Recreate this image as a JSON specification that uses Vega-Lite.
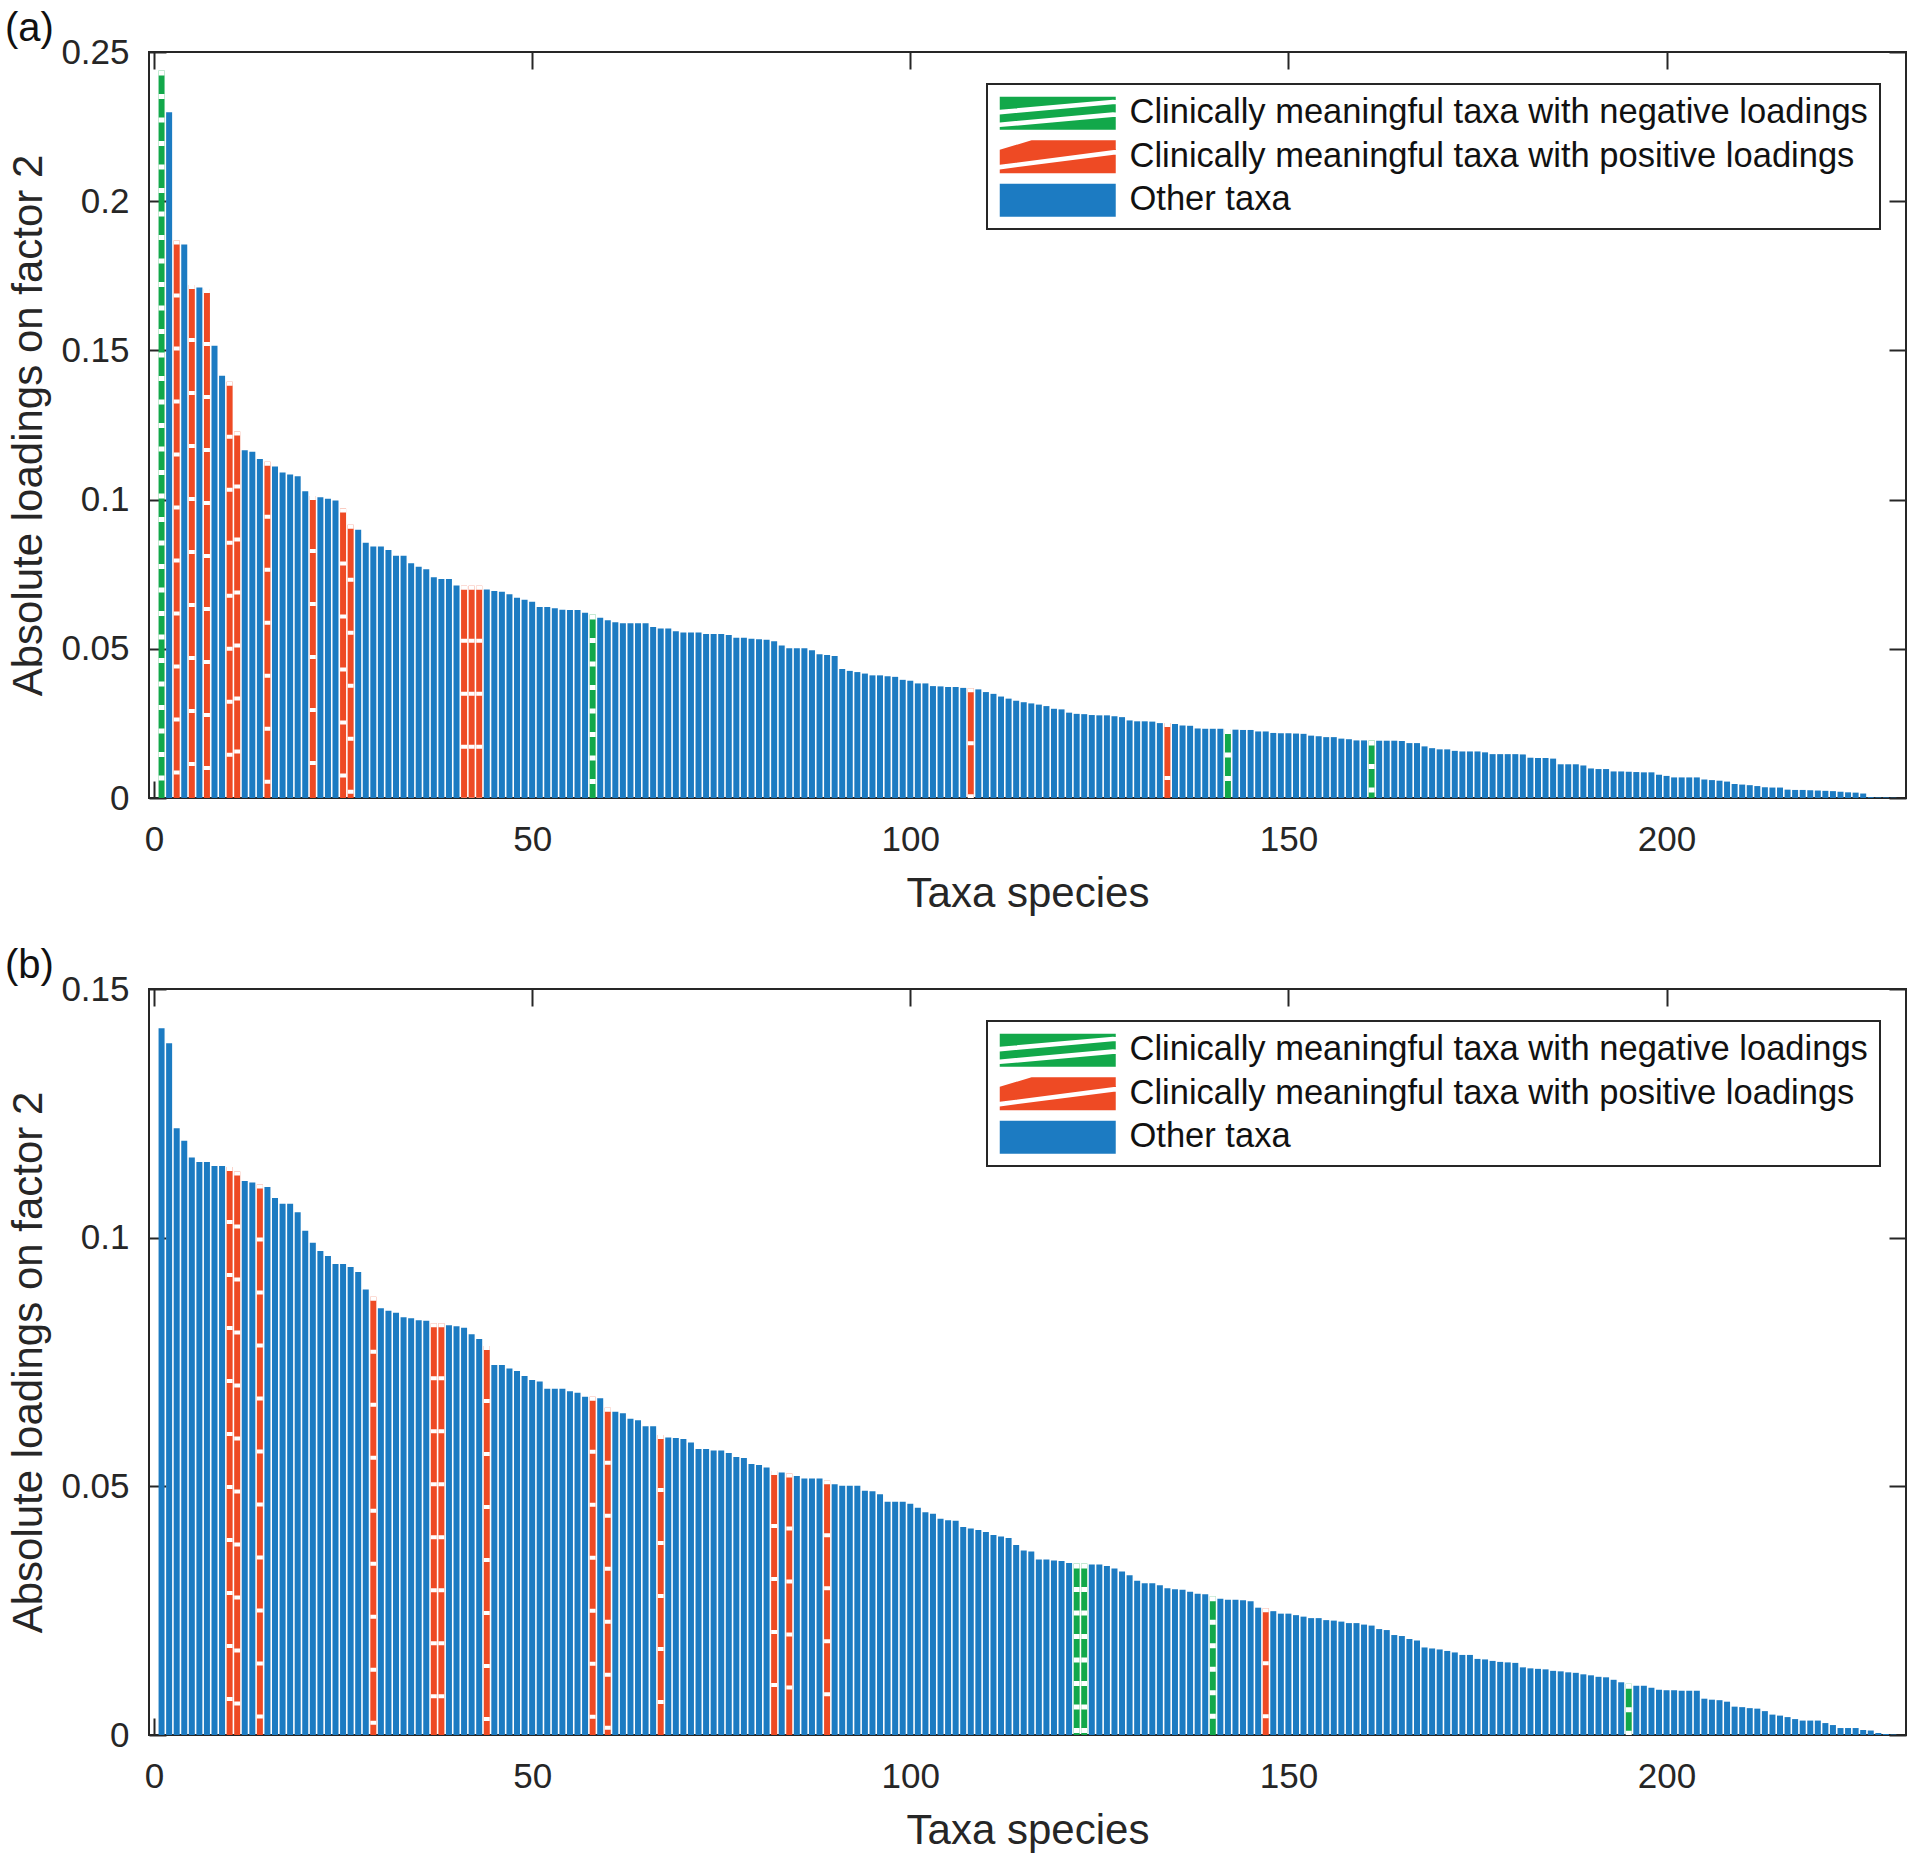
{
  "$schema": "https://vega.github.io/schema/vega-lite/v6.json",
  "background": "white",
  "padding": {"left": 3, "top": 8, "right": 12, "bottom": 5},
  "spacing": 30,
  "config": {
    "font": "Liberation Sans",
    "view": {"stroke": "#262626", "strokeWidth": 2},
    "axis": {"domain": false, "grid": false, "tickColor": "#262626", "tickWidth": 2, "tickSize": -17, "labelFontSize": 35, "labelColor": "#262626", "titleFontSize": 42, "titleFontWeight": "normal", "titleColor": "#262626", "labelFlush": false, "labelOverlap": false, "labelBound": false},
    "title": {"fontSize": 40, "fontWeight": "normal", "anchor": "start", "frame": "bounds", "color": "#111111", "offset": -14, "dx": -3},
    "legend": {"orient": "none", "legendX": 838, "legendY": 32, "title": null, "labelFontSize": 34.5, "labelColor": "#111111", "labelLimit": 0, "symbolSize": 1089, "symbolStrokeWidth": 0, "strokeColor": "#262626", "strokeWidth": 2, "fillColor": "white", "padding": 12, "labelOffset": 96, "rowPadding": 8.5}
  },
  "datasets": {
    "a": [
      {"i":1,"v":0.2438,"g":"n"},{"i":2,"v":0.2298,"g":"o"},{"i":3,"v":0.1868,"g":"p"},{"i":4,"v":0.1855,"g":"o"},{"i":5,"v":0.1719,"g":"p"},
      {"i":6,"v":0.1711,"g":"o"},{"i":7,"v":0.1706,"g":"p"},{"i":8,"v":0.1516,"g":"o"},{"i":9,"v":0.1415,"g":"o"},{"i":10,"v":0.1395,"g":"p"},
      {"i":11,"v":0.1228,"g":"p"},{"i":12,"v":0.1165,"g":"o"},{"i":13,"v":0.1160,"g":"o"},{"i":14,"v":0.1136,"g":"o"},{"i":15,"v":0.1127,"g":"p"},
      {"i":16,"v":0.1111,"g":"o"},{"i":17,"v":0.1091,"g":"o"},{"i":18,"v":0.1084,"g":"o"},{"i":19,"v":0.1078,"g":"o"},{"i":20,"v":0.1028,"g":"o"},
      {"i":21,"v":0.1012,"g":"p"},{"i":22,"v":0.1008,"g":"o"},{"i":23,"v":0.1003,"g":"o"},{"i":24,"v":0.0997,"g":"o"},{"i":25,"v":0.0970,"g":"p"},
      {"i":26,"v":0.0916,"g":"p"},{"i":27,"v":0.0899,"g":"o"},{"i":28,"v":0.0855,"g":"o"},{"i":29,"v":0.0843,"g":"o"},{"i":30,"v":0.0843,"g":"o"},
      {"i":31,"v":0.0831,"g":"o"},{"i":32,"v":0.0812,"g":"o"},{"i":33,"v":0.0812,"g":"o"},{"i":34,"v":0.0787,"g":"o"},{"i":35,"v":0.0775,"g":"o"},
      {"i":36,"v":0.0767,"g":"o"},{"i":37,"v":0.0740,"g":"o"},{"i":38,"v":0.0734,"g":"o"},{"i":39,"v":0.0734,"g":"o"},{"i":40,"v":0.0712,"g":"o"},
      {"i":41,"v":0.0711,"g":"p"},{"i":42,"v":0.0711,"g":"p"},{"i":43,"v":0.0711,"g":"p"},{"i":44,"v":0.0699,"g":"o"},{"i":45,"v":0.0694,"g":"o"},
      {"i":46,"v":0.0691,"g":"o"},{"i":47,"v":0.0683,"g":"o"},{"i":48,"v":0.0671,"g":"o"},{"i":49,"v":0.0664,"g":"o"},{"i":50,"v":0.0658,"g":"o"},
      {"i":51,"v":0.0640,"g":"o"},{"i":52,"v":0.0640,"g":"o"},{"i":53,"v":0.0636,"g":"o"},{"i":54,"v":0.0631,"g":"o"},{"i":55,"v":0.0630,"g":"o"},
      {"i":56,"v":0.0630,"g":"o"},{"i":57,"v":0.0621,"g":"o"},{"i":58,"v":0.0615,"g":"n"},{"i":59,"v":0.0604,"g":"o"},{"i":60,"v":0.0596,"g":"o"},
      {"i":61,"v":0.0589,"g":"o"},{"i":62,"v":0.0586,"g":"o"},{"i":63,"v":0.0586,"g":"o"},{"i":64,"v":0.0586,"g":"o"},{"i":65,"v":0.0586,"g":"o"},
      {"i":66,"v":0.0573,"g":"o"},{"i":67,"v":0.0568,"g":"o"},{"i":68,"v":0.0568,"g":"o"},{"i":69,"v":0.0559,"g":"o"},{"i":70,"v":0.0555,"g":"o"},
      {"i":71,"v":0.0555,"g":"o"},{"i":72,"v":0.0555,"g":"o"},{"i":73,"v":0.0550,"g":"o"},{"i":74,"v":0.0550,"g":"o"},{"i":75,"v":0.0550,"g":"o"},
      {"i":76,"v":0.0546,"g":"o"},{"i":77,"v":0.0537,"g":"o"},{"i":78,"v":0.0537,"g":"o"},{"i":79,"v":0.0534,"g":"o"},{"i":80,"v":0.0532,"g":"o"},
      {"i":81,"v":0.0530,"g":"o"},{"i":82,"v":0.0525,"g":"o"},{"i":83,"v":0.0511,"g":"o"},{"i":84,"v":0.0502,"g":"o"},{"i":85,"v":0.0502,"g":"o"},
      {"i":86,"v":0.0502,"g":"o"},{"i":87,"v":0.0495,"g":"o"},{"i":88,"v":0.0482,"g":"o"},{"i":89,"v":0.0479,"g":"o"},{"i":90,"v":0.0476,"g":"o"},
      {"i":91,"v":0.0432,"g":"o"},{"i":92,"v":0.0426,"g":"o"},{"i":93,"v":0.0422,"g":"o"},{"i":94,"v":0.0417,"g":"o"},{"i":95,"v":0.0411,"g":"o"},
      {"i":96,"v":0.0411,"g":"o"},{"i":97,"v":0.0408,"g":"o"},{"i":98,"v":0.0406,"g":"o"},{"i":99,"v":0.0396,"g":"o"},{"i":100,"v":0.0393,"g":"o"},
      {"i":101,"v":0.0384,"g":"o"},{"i":102,"v":0.0384,"g":"o"},{"i":103,"v":0.0375,"g":"o"},{"i":104,"v":0.0374,"g":"o"},{"i":105,"v":0.0372,"g":"o"},
      {"i":106,"v":0.0372,"g":"o"},{"i":107,"v":0.0369,"g":"o"},{"i":108,"v":0.0368,"g":"p"},{"i":109,"v":0.0364,"g":"o"},{"i":110,"v":0.0355,"g":"o"},
      {"i":111,"v":0.0349,"g":"o"},{"i":112,"v":0.0340,"g":"o"},{"i":113,"v":0.0333,"g":"o"},{"i":114,"v":0.0326,"g":"o"},{"i":115,"v":0.0321,"g":"o"},
      {"i":116,"v":0.0317,"g":"o"},{"i":117,"v":0.0313,"g":"o"},{"i":118,"v":0.0308,"g":"o"},{"i":119,"v":0.0299,"g":"o"},{"i":120,"v":0.0297,"g":"o"},
      {"i":121,"v":0.0286,"g":"o"},{"i":122,"v":0.0282,"g":"o"},{"i":123,"v":0.0281,"g":"o"},{"i":124,"v":0.0278,"g":"o"},{"i":125,"v":0.0277,"g":"o"},
      {"i":126,"v":0.0277,"g":"o"},{"i":127,"v":0.0274,"g":"o"},{"i":128,"v":0.0271,"g":"o"},{"i":129,"v":0.0260,"g":"o"},{"i":130,"v":0.0257,"g":"o"},
      {"i":131,"v":0.0257,"g":"o"},{"i":132,"v":0.0256,"g":"o"},{"i":133,"v":0.0251,"g":"o"},{"i":134,"v":0.0251,"g":"p"},{"i":135,"v":0.0248,"g":"o"},
      {"i":136,"v":0.0243,"g":"o"},{"i":137,"v":0.0242,"g":"o"},{"i":138,"v":0.0233,"g":"o"},{"i":139,"v":0.0232,"g":"o"},{"i":140,"v":0.0232,"g":"o"},
      {"i":141,"v":0.0232,"g":"o"},{"i":142,"v":0.0231,"g":"n"},{"i":143,"v":0.0229,"g":"o"},{"i":144,"v":0.0228,"g":"o"},{"i":145,"v":0.0228,"g":"o"},
      {"i":146,"v":0.0223,"g":"o"},{"i":147,"v":0.0223,"g":"o"},{"i":148,"v":0.0218,"g":"o"},{"i":149,"v":0.0217,"g":"o"},{"i":150,"v":0.0217,"g":"o"},
      {"i":151,"v":0.0216,"g":"o"},{"i":152,"v":0.0215,"g":"o"},{"i":153,"v":0.0209,"g":"o"},{"i":154,"v":0.0207,"g":"o"},{"i":155,"v":0.0204,"g":"o"},
      {"i":156,"v":0.0204,"g":"o"},{"i":157,"v":0.0199,"g":"o"},{"i":158,"v":0.0197,"g":"o"},{"i":159,"v":0.0193,"g":"o"},{"i":160,"v":0.0193,"g":"o"},
      {"i":161,"v":0.0193,"g":"n"},{"i":162,"v":0.0192,"g":"o"},{"i":163,"v":0.0192,"g":"o"},{"i":164,"v":0.0192,"g":"o"},{"i":165,"v":0.0191,"g":"o"},
      {"i":166,"v":0.0184,"g":"o"},{"i":167,"v":0.0184,"g":"o"},{"i":168,"v":0.0173,"g":"o"},{"i":169,"v":0.0167,"g":"o"},{"i":170,"v":0.0163,"g":"o"},
      {"i":171,"v":0.0163,"g":"o"},{"i":172,"v":0.0158,"g":"o"},{"i":173,"v":0.0156,"g":"o"},{"i":174,"v":0.0156,"g":"o"},{"i":175,"v":0.0156,"g":"o"},
      {"i":176,"v":0.0153,"g":"o"},{"i":177,"v":0.0147,"g":"o"},{"i":178,"v":0.0147,"g":"o"},{"i":179,"v":0.0147,"g":"o"},{"i":180,"v":0.0147,"g":"o"},
      {"i":181,"v":0.0146,"g":"o"},{"i":182,"v":0.0135,"g":"o"},{"i":183,"v":0.0134,"g":"o"},{"i":184,"v":0.0134,"g":"o"},{"i":185,"v":0.0132,"g":"o"},
      {"i":186,"v":0.0113,"g":"o"},{"i":187,"v":0.0113,"g":"o"},{"i":188,"v":0.0113,"g":"o"},{"i":189,"v":0.0109,"g":"o"},{"i":190,"v":0.0099,"g":"o"},
      {"i":191,"v":0.0097,"g":"o"},{"i":192,"v":0.0097,"g":"o"},{"i":193,"v":0.0089,"g":"o"},{"i":194,"v":0.0089,"g":"o"},{"i":195,"v":0.0088,"g":"o"},
      {"i":196,"v":0.0087,"g":"o"},{"i":197,"v":0.0086,"g":"o"},{"i":198,"v":0.0086,"g":"o"},{"i":199,"v":0.0078,"g":"o"},{"i":200,"v":0.0074,"g":"o"},
      {"i":201,"v":0.0069,"g":"o"},{"i":202,"v":0.0069,"g":"o"},{"i":203,"v":0.0069,"g":"o"},{"i":204,"v":0.0069,"g":"o"},{"i":205,"v":0.0062,"g":"o"},
      {"i":206,"v":0.0060,"g":"o"},{"i":207,"v":0.0058,"g":"o"},{"i":208,"v":0.0055,"g":"o"},{"i":209,"v":0.0047,"g":"o"},{"i":210,"v":0.0045,"g":"o"},
      {"i":211,"v":0.0043,"g":"o"},{"i":212,"v":0.0040,"g":"o"},{"i":213,"v":0.0036,"g":"o"},{"i":214,"v":0.0035,"g":"o"},{"i":215,"v":0.0035,"g":"o"},
      {"i":216,"v":0.0028,"g":"o"},{"i":217,"v":0.0027,"g":"o"},{"i":218,"v":0.0027,"g":"o"},{"i":219,"v":0.0026,"g":"o"},{"i":220,"v":0.0025,"g":"o"},
      {"i":221,"v":0.0024,"g":"o"},{"i":222,"v":0.0023,"g":"o"},{"i":223,"v":0.0021,"g":"o"},{"i":224,"v":0.0019,"g":"o"},{"i":225,"v":0.0018,"g":"o"},
      {"i":226,"v":0.0015,"g":"o"},{"i":227,"v":0.0003,"g":"o"},{"i":228,"v":0.0002,"g":"o"},{"i":229,"v":0.0002,"g":"o"},{"i":230,"v":0.0001,"g":"o"}
    ],
    "b": [
      {"i":1,"v":0.1421,"g":"o"},{"i":2,"v":0.1391,"g":"o"},{"i":3,"v":0.1220,"g":"o"},{"i":4,"v":0.1195,"g":"o"},{"i":5,"v":0.1161,"g":"o"},
      {"i":6,"v":0.1152,"g":"o"},{"i":7,"v":0.1152,"g":"o"},{"i":8,"v":0.1144,"g":"o"},{"i":9,"v":0.1144,"g":"o"},{"i":10,"v":0.1142,"g":"p"},
      {"i":11,"v":0.1133,"g":"p"},{"i":12,"v":0.1114,"g":"o"},{"i":13,"v":0.1111,"g":"o"},{"i":14,"v":0.1107,"g":"p"},{"i":15,"v":0.1102,"g":"o"},
      {"i":16,"v":0.1080,"g":"o"},{"i":17,"v":0.1068,"g":"o"},{"i":18,"v":0.1068,"g":"o"},{"i":19,"v":0.1051,"g":"o"},{"i":20,"v":0.1014,"g":"o"},
      {"i":21,"v":0.0990,"g":"o"},{"i":22,"v":0.0973,"g":"o"},{"i":23,"v":0.0963,"g":"o"},{"i":24,"v":0.0947,"g":"o"},{"i":25,"v":0.0947,"g":"o"},
      {"i":26,"v":0.0941,"g":"o"},{"i":27,"v":0.0931,"g":"o"},{"i":28,"v":0.0896,"g":"o"},{"i":29,"v":0.0881,"g":"p"},{"i":30,"v":0.0858,"g":"o"},
      {"i":31,"v":0.0853,"g":"o"},{"i":32,"v":0.0849,"g":"o"},{"i":33,"v":0.0840,"g":"o"},{"i":34,"v":0.0838,"g":"o"},{"i":35,"v":0.0834,"g":"o"},
      {"i":36,"v":0.0833,"g":"o"},{"i":37,"v":0.0828,"g":"p"},{"i":38,"v":0.0828,"g":"p"},{"i":39,"v":0.0824,"g":"o"},{"i":40,"v":0.0822,"g":"o"},
      {"i":41,"v":0.0819,"g":"o"},{"i":42,"v":0.0806,"g":"o"},{"i":43,"v":0.0796,"g":"o"},{"i":44,"v":0.0782,"g":"p"},{"i":45,"v":0.0744,"g":"o"},
      {"i":46,"v":0.0744,"g":"o"},{"i":47,"v":0.0737,"g":"o"},{"i":48,"v":0.0732,"g":"o"},{"i":49,"v":0.0722,"g":"o"},{"i":50,"v":0.0714,"g":"o"},
      {"i":51,"v":0.0711,"g":"o"},{"i":52,"v":0.0696,"g":"o"},{"i":53,"v":0.0696,"g":"o"},{"i":54,"v":0.0696,"g":"o"},{"i":55,"v":0.0691,"g":"o"},
      {"i":56,"v":0.0688,"g":"o"},{"i":57,"v":0.0680,"g":"o"},{"i":58,"v":0.0680,"g":"p"},{"i":59,"v":0.0677,"g":"o"},{"i":60,"v":0.0658,"g":"p"},
      {"i":61,"v":0.0650,"g":"o"},{"i":62,"v":0.0647,"g":"o"},{"i":63,"v":0.0636,"g":"o"},{"i":64,"v":0.0633,"g":"o"},{"i":65,"v":0.0621,"g":"o"},
      {"i":66,"v":0.0621,"g":"o"},{"i":67,"v":0.0603,"g":"p"},{"i":68,"v":0.0598,"g":"o"},{"i":69,"v":0.0597,"g":"o"},{"i":70,"v":0.0595,"g":"o"},
      {"i":71,"v":0.0588,"g":"o"},{"i":72,"v":0.0575,"g":"o"},{"i":73,"v":0.0575,"g":"o"},{"i":74,"v":0.0572,"g":"o"},{"i":75,"v":0.0572,"g":"o"},
      {"i":76,"v":0.0567,"g":"o"},{"i":77,"v":0.0559,"g":"o"},{"i":78,"v":0.0557,"g":"o"},{"i":79,"v":0.0545,"g":"o"},{"i":80,"v":0.0543,"g":"o"},
      {"i":81,"v":0.0538,"g":"o"},{"i":82,"v":0.0531,"g":"p"},{"i":83,"v":0.0528,"g":"o"},{"i":84,"v":0.0526,"g":"p"},{"i":85,"v":0.0521,"g":"o"},
      {"i":86,"v":0.0516,"g":"o"},{"i":87,"v":0.0516,"g":"o"},{"i":88,"v":0.0516,"g":"o"},{"i":89,"v":0.0512,"g":"p"},{"i":90,"v":0.0504,"g":"o"},
      {"i":91,"v":0.0501,"g":"o"},{"i":92,"v":0.0501,"g":"o"},{"i":93,"v":0.0501,"g":"o"},{"i":94,"v":0.0491,"g":"o"},{"i":95,"v":0.0490,"g":"o"},
      {"i":96,"v":0.0484,"g":"o"},{"i":97,"v":0.0469,"g":"o"},{"i":98,"v":0.0469,"g":"o"},{"i":99,"v":0.0469,"g":"o"},{"i":100,"v":0.0465,"g":"o"},
      {"i":101,"v":0.0457,"g":"o"},{"i":102,"v":0.0448,"g":"o"},{"i":103,"v":0.0445,"g":"o"},{"i":104,"v":0.0435,"g":"o"},{"i":105,"v":0.0432,"g":"o"},
      {"i":106,"v":0.0431,"g":"o"},{"i":107,"v":0.0418,"g":"o"},{"i":108,"v":0.0415,"g":"o"},{"i":109,"v":0.0412,"g":"o"},{"i":110,"v":0.0408,"g":"o"},
      {"i":111,"v":0.0402,"g":"o"},{"i":112,"v":0.0399,"g":"o"},{"i":113,"v":0.0396,"g":"o"},{"i":114,"v":0.0382,"g":"o"},{"i":115,"v":0.0371,"g":"o"},
      {"i":116,"v":0.0369,"g":"o"},{"i":117,"v":0.0353,"g":"o"},{"i":118,"v":0.0353,"g":"o"},{"i":119,"v":0.0351,"g":"o"},{"i":120,"v":0.0350,"g":"o"},
      {"i":121,"v":0.0346,"g":"o"},{"i":122,"v":0.0345,"g":"n"},{"i":123,"v":0.0345,"g":"n"},{"i":124,"v":0.0343,"g":"o"},{"i":125,"v":0.0343,"g":"o"},
      {"i":126,"v":0.0340,"g":"o"},{"i":127,"v":0.0335,"g":"o"},{"i":128,"v":0.0329,"g":"o"},{"i":129,"v":0.0321,"g":"o"},{"i":130,"v":0.0310,"g":"o"},
      {"i":131,"v":0.0305,"g":"o"},{"i":132,"v":0.0305,"g":"o"},{"i":133,"v":0.0301,"g":"o"},{"i":134,"v":0.0295,"g":"o"},{"i":135,"v":0.0293,"g":"o"},
      {"i":136,"v":0.0292,"g":"o"},{"i":137,"v":0.0288,"g":"o"},{"i":138,"v":0.0284,"g":"o"},{"i":139,"v":0.0283,"g":"o"},{"i":140,"v":0.0279,"g":"n"},
      {"i":141,"v":0.0274,"g":"o"},{"i":142,"v":0.0272,"g":"o"},{"i":143,"v":0.0272,"g":"o"},{"i":144,"v":0.0271,"g":"o"},{"i":145,"v":0.0269,"g":"o"},
      {"i":146,"v":0.0256,"g":"o"},{"i":147,"v":0.0255,"g":"p"},{"i":148,"v":0.0249,"g":"o"},{"i":149,"v":0.0244,"g":"o"},{"i":150,"v":0.0244,"g":"o"},
      {"i":151,"v":0.0241,"g":"o"},{"i":152,"v":0.0238,"g":"o"},{"i":153,"v":0.0235,"g":"o"},{"i":154,"v":0.0235,"g":"o"},{"i":155,"v":0.0231,"g":"o"},
      {"i":156,"v":0.0230,"g":"o"},{"i":157,"v":0.0228,"g":"o"},{"i":158,"v":0.0225,"g":"o"},{"i":159,"v":0.0225,"g":"o"},{"i":160,"v":0.0222,"g":"o"},
      {"i":161,"v":0.0220,"g":"o"},{"i":162,"v":0.0213,"g":"o"},{"i":163,"v":0.0211,"g":"o"},{"i":164,"v":0.0201,"g":"o"},{"i":165,"v":0.0199,"g":"o"},
      {"i":166,"v":0.0193,"g":"o"},{"i":167,"v":0.0190,"g":"o"},{"i":168,"v":0.0176,"g":"o"},{"i":169,"v":0.0174,"g":"o"},{"i":170,"v":0.0172,"g":"o"},
      {"i":171,"v":0.0169,"g":"o"},{"i":172,"v":0.0166,"g":"o"},{"i":173,"v":0.0161,"g":"o"},{"i":174,"v":0.0161,"g":"o"},{"i":175,"v":0.0153,"g":"o"},
      {"i":176,"v":0.0152,"g":"o"},{"i":177,"v":0.0149,"g":"o"},{"i":178,"v":0.0147,"g":"o"},{"i":179,"v":0.0146,"g":"o"},{"i":180,"v":0.0145,"g":"o"},
      {"i":181,"v":0.0136,"g":"o"},{"i":182,"v":0.0134,"g":"o"},{"i":183,"v":0.0133,"g":"o"},{"i":184,"v":0.0132,"g":"o"},{"i":185,"v":0.0129,"g":"o"},
      {"i":186,"v":0.0128,"g":"o"},{"i":187,"v":0.0126,"g":"o"},{"i":188,"v":0.0125,"g":"o"},{"i":189,"v":0.0122,"g":"o"},{"i":190,"v":0.0120,"g":"o"},
      {"i":191,"v":0.0117,"g":"o"},{"i":192,"v":0.0116,"g":"o"},{"i":193,"v":0.0111,"g":"o"},{"i":194,"v":0.0106,"g":"o"},{"i":195,"v":0.0103,"g":"n"},
      {"i":196,"v":0.0099,"g":"o"},{"i":197,"v":0.0099,"g":"o"},{"i":198,"v":0.0095,"g":"o"},{"i":199,"v":0.0091,"g":"o"},{"i":200,"v":0.0090,"g":"o"},
      {"i":201,"v":0.0090,"g":"o"},{"i":202,"v":0.0089,"g":"o"},{"i":203,"v":0.0089,"g":"o"},{"i":204,"v":0.0089,"g":"o"},{"i":205,"v":0.0073,"g":"o"},
      {"i":206,"v":0.0071,"g":"o"},{"i":207,"v":0.0070,"g":"o"},{"i":208,"v":0.0067,"g":"o"},{"i":209,"v":0.0057,"g":"o"},{"i":210,"v":0.0056,"g":"o"},
      {"i":211,"v":0.0054,"g":"o"},{"i":212,"v":0.0053,"g":"o"},{"i":213,"v":0.0048,"g":"o"},{"i":214,"v":0.0041,"g":"o"},{"i":215,"v":0.0039,"g":"o"},
      {"i":216,"v":0.0036,"g":"o"},{"i":217,"v":0.0032,"g":"o"},{"i":218,"v":0.0029,"g":"o"},{"i":219,"v":0.0029,"g":"o"},{"i":220,"v":0.0029,"g":"o"},
      {"i":221,"v":0.0024,"g":"o"},{"i":222,"v":0.0020,"g":"o"},{"i":223,"v":0.0014,"g":"o"},{"i":224,"v":0.0014,"g":"o"},{"i":225,"v":0.0014,"g":"o"},
      {"i":226,"v":0.0010,"g":"o"},{"i":227,"v":0.0009,"g":"o"},{"i":228,"v":0.0004,"g":"o"},{"i":229,"v":0.0002,"g":"o"},{"i":230,"v":0.0001,"g":"o"}
    ]
  },
  "vconcat": [
    {
      "title": {"text": "(a)"},
      "width": 1757,
      "height": 746,
      "data": {"name": "a"},
      "layer": [
        {
          "mark": {"type": "bar", "width": 6},
          "encoding": {
            "x": {"field": "i", "type": "quantitative", "scale": {"domain": [0, 231], "nice": false, "zero": false},
                  "axis": {"orient": "bottom", "values": [0, 50, 100, 150, 200], "labelPadding": 41, "title": "Taxa species", "titlePadding": 16}},
            "y": {"field": "v", "type": "quantitative", "scale": {"domain": [0, 0.25], "nice": false},
                  "axis": {"orient": "left", "values": [0, 0.05, 0.1, 0.15, 0.2, 0.25], "format": ".2~f", "labelPadding": 37, "title": "Absolute loadings on factor 2", "titlePadding": 10}},
            "color": {"field": "g", "type": "nominal", "scale": {"domain": ["n", "p", "o"], "range": ["#12a84a", "#ee4a24", "#1c7bc2"]},
                      "legend": {"labelExpr": "datum.label == 'n' ? 'Clinically meaningful taxa with negative loadings' : datum.label == 'p' ? 'Clinically meaningful taxa with positive loadings' : 'Other taxa'",
                                 "encode": {"symbols": {"update": {"shape": {"signal": "datum.value == 'o' ? 'M-1,-1H6.03V1H-1Z' : datum.value == 'n' ? 'M-1,-1H6.03V1H-1Z M-1,-0.21V0.07L6.03,-0.56V-0.84Z M-1,0.56V0.84L6.03,0.21V-0.07Z' : 'M-1,-1H6.03V1H-1Z M-1,-1V-0.42L0.93,-1Z M-1,0.49V0.77L6.03,-0.14V-0.42Z'"}}}}}}
          }
        },
        {
          "transform": [{"filter": "datum.g == 'n'"}],
          "mark": {"type": "rule", "color": "white", "strokeWidth": 6, "strokeDash": [5, 18.5]},
          "encoding": {
            "x": {"field": "i", "type": "quantitative", "axis": {"orient": "top", "values": [0, 50, 100, 150, 200], "labels": false, "title": null}},
            "y": {"field": "v", "type": "quantitative", "axis": {"orient": "right", "values": [0, 0.05, 0.1, 0.15, 0.2, 0.25], "labels": false, "title": null}},
            "y2": {"datum": 0}
          }
        },
        {
          "transform": [{"filter": "datum.g == 'p'"}],
          "mark": {"type": "rule", "color": "white", "strokeWidth": 6, "strokeDash": [4, 49]},
          "encoding": {
            "x": {"field": "i", "type": "quantitative", "axis": null},
            "y": {"field": "v", "type": "quantitative", "axis": null},
            "y2": {"datum": 0}
          }
        }
      ]
    },
    {
      "title": {"text": "(b)"},
      "width": 1757,
      "height": 746,
      "data": {"name": "b"},
      "layer": [
        {
          "mark": {"type": "bar", "width": 6},
          "encoding": {
            "x": {"field": "i", "type": "quantitative", "scale": {"domain": [0, 231], "nice": false, "zero": false},
                  "axis": {"orient": "bottom", "values": [0, 50, 100, 150, 200], "labelPadding": 41, "title": "Taxa species", "titlePadding": 16}},
            "y": {"field": "v", "type": "quantitative", "scale": {"domain": [0, 0.15], "nice": false},
                  "axis": {"orient": "left", "values": [0, 0.05, 0.1, 0.15], "format": ".2~f", "labelPadding": 37, "title": "Absolute loadings on factor 2", "titlePadding": 10}},
            "color": {"field": "g", "type": "nominal", "scale": {"domain": ["n", "p", "o"], "range": ["#12a84a", "#ee4a24", "#1c7bc2"]},
                      "legend": {"labelExpr": "datum.label == 'n' ? 'Clinically meaningful taxa with negative loadings' : datum.label == 'p' ? 'Clinically meaningful taxa with positive loadings' : 'Other taxa'",
                                 "encode": {"symbols": {"update": {"shape": {"signal": "datum.value == 'o' ? 'M-1,-1H6.03V1H-1Z' : datum.value == 'n' ? 'M-1,-1H6.03V1H-1Z M-1,-0.21V0.07L6.03,-0.56V-0.84Z M-1,0.56V0.84L6.03,0.21V-0.07Z' : 'M-1,-1H6.03V1H-1Z M-1,-1V-0.42L0.93,-1Z M-1,0.49V0.77L6.03,-0.14V-0.42Z'"}}}}}}
          }
        },
        {
          "transform": [{"filter": "datum.g == 'n'"}],
          "mark": {"type": "rule", "color": "white", "strokeWidth": 6, "strokeDash": [5, 18.5]},
          "encoding": {
            "x": {"field": "i", "type": "quantitative", "axis": {"orient": "top", "values": [0, 50, 100, 150, 200], "labels": false, "title": null}},
            "y": {"field": "v", "type": "quantitative", "axis": {"orient": "right", "values": [0, 0.05, 0.1, 0.15], "labels": false, "title": null}},
            "y2": {"datum": 0}
          }
        },
        {
          "transform": [{"filter": "datum.g == 'p'"}],
          "mark": {"type": "rule", "color": "white", "strokeWidth": 6, "strokeDash": [4, 49]},
          "encoding": {
            "x": {"field": "i", "type": "quantitative", "axis": null},
            "y": {"field": "v", "type": "quantitative", "axis": null},
            "y2": {"datum": 0}
          }
        }
      ]
    }
  ],
  "resolve": {"scale": {"color": "independent", "x": "independent", "y": "independent"}}
}
